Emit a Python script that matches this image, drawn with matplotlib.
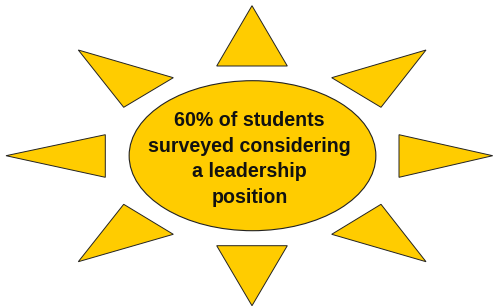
import matplotlib
matplotlib.use("Agg")
import matplotlib.pyplot as plt
from matplotlib.patches import Polygon, Ellipse

W, H = 493, 307
fill = "#FFCC00"

# Rays (triangles) in pixel coordinates of the picture
ray_top = [(252, 5.7), (216.7, 66), (287.3, 66)]
ray_bottom = [(216.7, 245.7), (287.3, 245.7), (252, 305.7)]
ray_left = [(6, 155.7), (105.3, 134.7), (105.3, 177.3)]
ray_right = [(399, 134.7), (399, 177.3), (492.7, 155.7)]
ray_ul = [(78.3, 50), (173.3, 77.7), (123.7, 107.3)]
ray_ur = [(426, 50), (331.7, 77.7), (381, 107.3)]
ray_ll = [(123.7, 204.3), (173.3, 234.3), (78.3, 261.7)]
ray_lr = [(381, 204.3), (331.7, 234.3), (426, 261.7)]
rays = [ray_top, ray_bottom, ray_left, ray_right, ray_ul, ray_ur, ray_ll, ray_lr]

center = (252.5, 155.7)
ell_w, ell_h = 246.7, 150
label = "60% of students\nsurveyed considering\na leadership\nposition"

fig = plt.figure(figsize=(W / 100, H / 100), dpi=100)
ax = fig.add_axes([0, 0, 1, 1])
ax.set_xlim(0, W)
ax.set_ylim(H, 0)
ax.axis("off")

for r in rays:
    ax.add_patch(Polygon(r, closed=True, facecolor=fill, edgecolor="#222222", linewidth=0.7))
ax.add_patch(Ellipse(center, ell_w, ell_h, facecolor=fill, edgecolor="#222222", linewidth=0.8))
ax.text(249.5, 159, label, ha="center", va="center", multialignment="center",
        fontsize=14.1, fontweight="bold", family=["Liberation Sans", "DejaVu Sans"],
        color="#111111", linespacing=1.46)

fig.savefig("out.png", dpi=100)
